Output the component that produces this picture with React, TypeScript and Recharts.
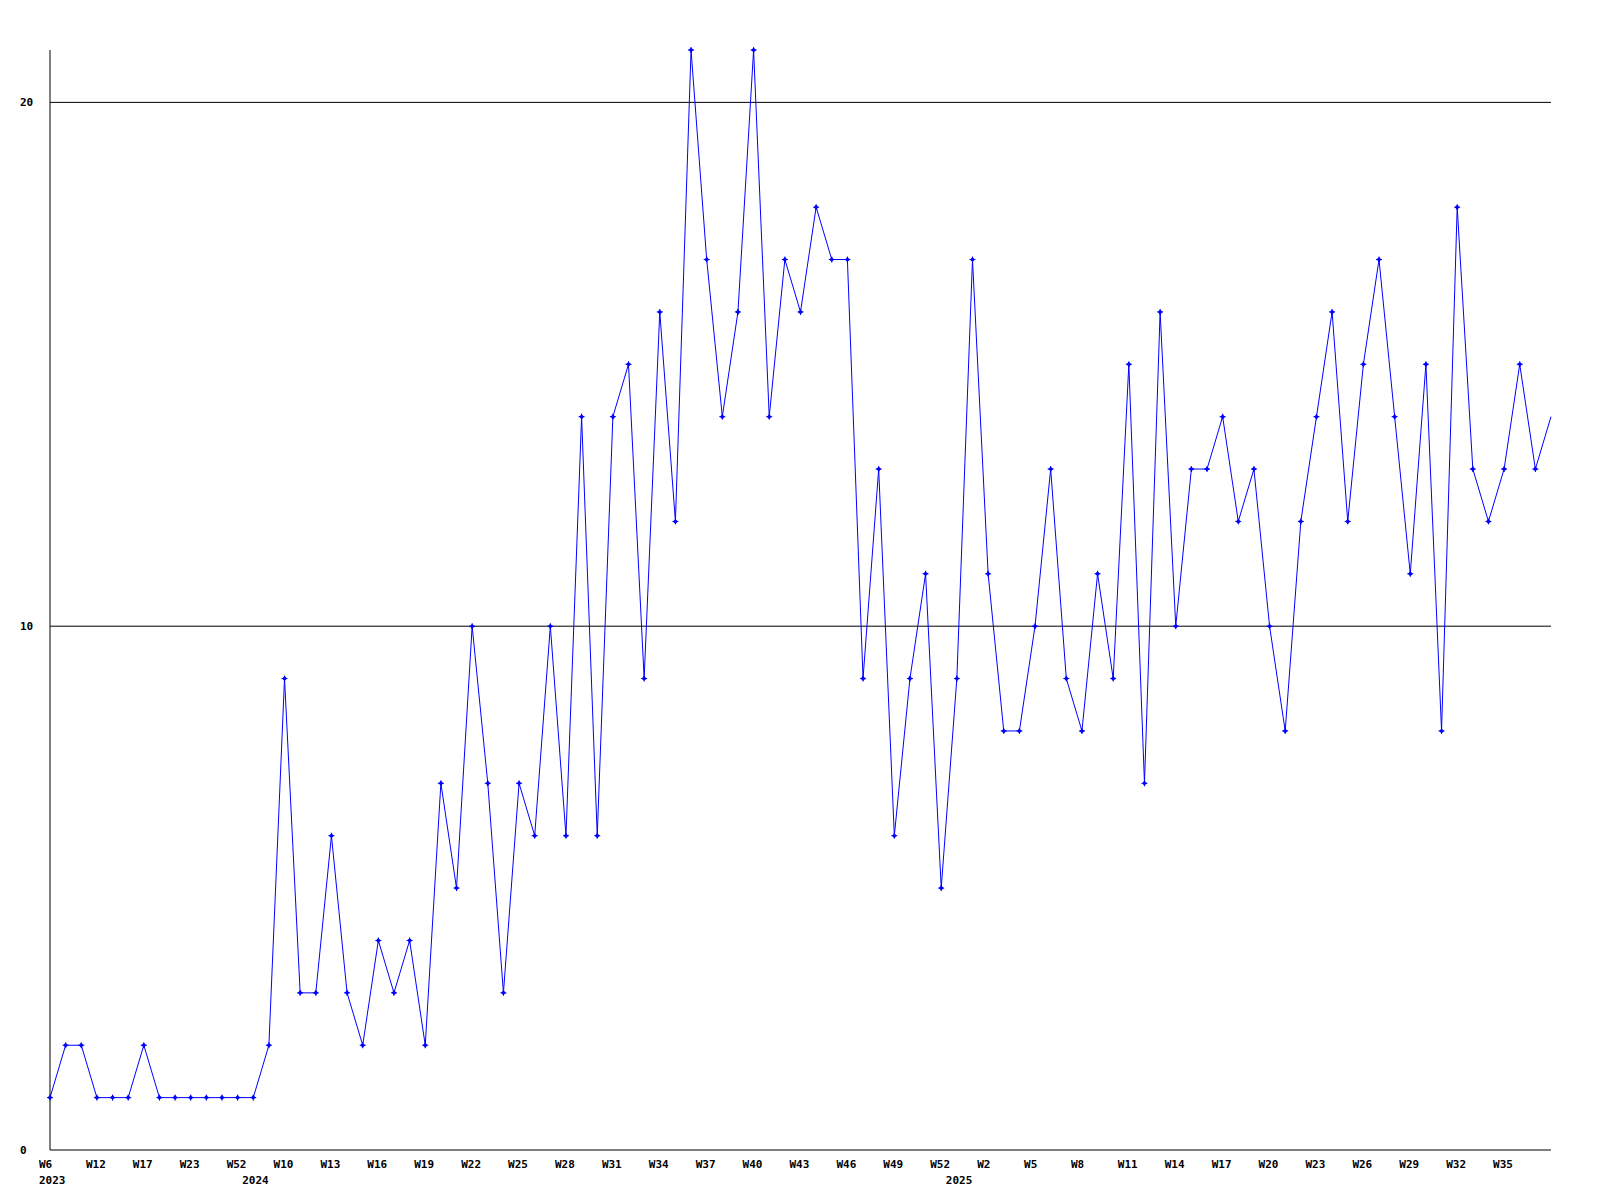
import { LineChart, Line, XAxis, YAxis, ReferenceLine } from "recharts";

// week labels per year (2023 is sparse, 2024/2025 are weekly)
const weeks2023 = ["W6", "W7", "W9", "W12", "W14", "W15", "W17", "W19", "W21", "W23", "W27", "W40", "W52"];
const weeks2024 = [
  "W8", "W9", "W10", "W11", "W12", "W13", "W14", "W15", "W16", "W17", "W18", "W19", "W20", "W21", "W22",
  "W23", "W24", "W25", "W26", "W27", "W28", "W29", "W30", "W31", "W32", "W33", "W34", "W35", "W36", "W37",
  "W38", "W39", "W40", "W41", "W42", "W43", "W44", "W45", "W46", "W47", "W48", "W49", "W50", "W51", "W52",
];
const weeks2025 = [
  "W0", "W1", "W2", "W3", "W4", "W5", "W6", "W7", "W8", "W9", "W10", "W11", "W12", "W13", "W14", "W15",
  "W16", "W17", "W18", "W19", "W20", "W21", "W22", "W23", "W24", "W25", "W26", "W27", "W28", "W29", "W30",
  "W31", "W32", "W33", "W34", "W35", "W36", "W37", "W38",
];
const years = ["2023", "2024", "2025"];

const values = [
  1, 2, 2, 1, 1, 1, 2, 1, 1, 1, 1, 1, 1,
  1, 2, 9, 3, 3, 6, 3, 2, 4, 3, 4, 2, 7, 5, 10, 7, 3, 7, 6, 10, 6, 14, 6, 14, 15, 9, 16, 12, 21, 17, 14,
  16, 21, 14, 17, 16, 18, 17, 17, 9, 13, 6, 9, 11, 5,
  9, 17, 11, 8, 8, 10, 13, 9, 8, 11, 9, 15, 7, 16, 10, 13, 13, 14, 12, 13, 10, 8, 12, 14, 16, 12, 15, 17,
  14, 11, 15, 8, 18, 13, 12, 13, 15, 13, 14,
];

const gridValues = [10, 20];

const weekGroups = [weeks2023, weeks2024, weeks2025];
const yearStart: Record<number, string> = {};
let offset = 0;
weekGroups.forEach((g, i) => {
  yearStart[offset] = years[i];
  offset += g.length;
});
const allWeeks = weekGroups.flat();
const data = allWeeks.map((w, i) => ({ key: i, week: w, value: values[i] }));
const last = data.length - 1;

const font = "'DejaVu Sans Mono', 'Liberation Mono', monospace";

const XTick = (props: any) => {
  const { x, payload } = props;
  const i = payload.value as number;
  return (
    <g>
      {i % 3 === 0 && i !== last && (
        <text x={x - 11} y={1168} fontFamily={font} fontWeight="bold" fontSize={11} fill="#000">
          {allWeeks[i]}
        </text>
      )}
      {yearStart[i] && (
        <text x={x - 11} y={1184} fontFamily={font} fontWeight="bold" fontSize={11} fill="#000">
          {yearStart[i]}
        </text>
      )}
    </g>
  );
};

const YTick = (props: any) => {
  const { y, payload } = props;
  return (
    <text x={20} y={y + 4} fontFamily={font} fontWeight="bold" fontSize={11} fill="#000">
      {payload.value}
    </text>
  );
};

const Marker = (props: any) => {
  const { cx, cy, index } = props;
  if (index === last || cx == null) return <g key={index} />;
  return (
    <g key={index}>
      <path d={`M${cx - 2.5},${cy} L${cx},${cy - 2.5} L${cx + 2.5},${cy} L${cx},${cy + 2.5} Z`} fill="#0000ff" />
      <path d={`M${cx - 3},${cy} H${cx + 3} M${cx},${cy - 3} V${cy + 3}`} stroke="#0000ff" strokeWidth={1} />
    </g>
  );
};

export default function App() {
  return (
    <div style={{ position: "absolute", left: 0, top: 0, width: 1600, height: 1200, background: "#fff" }}>
      <LineChart width={1600} height={1200} data={data} margin={{ top: 50, right: 49, bottom: 0, left: 0 }}>
        <XAxis
          dataKey="key"
          type="category"
          interval={0}
          tickLine={false}
          axisLine={{ stroke: "#000" }}
          tick={<XTick />}
          height={50}
          padding={{ left: 0, right: 0 }}
        />
        <YAxis
          type="number"
          domain={[0, 21]}
          ticks={[0, 10, 20]}
          tickLine={false}
          axisLine={{ stroke: "#000" }}
          tick={<YTick />}
          width={50}
        />
        {gridValues.map((v) => (
          <ReferenceLine key={v} y={v} stroke="#000" strokeWidth={1} />
        ))}
        <Line
          type="linear"
          dataKey="value"
          stroke="#0000ff"
          strokeWidth={1}
          dot={<Marker />}
          activeDot={false}
          isAnimationActive={false}
        />
      </LineChart>
    </div>
  );
}
